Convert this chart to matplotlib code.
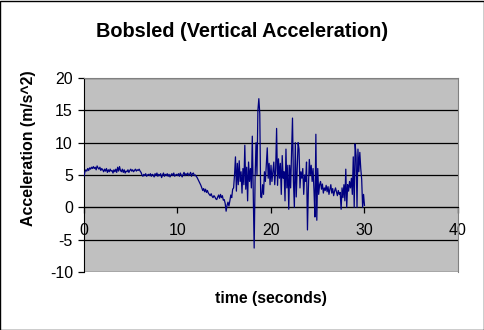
import numpy as np
import matplotlib.pyplot as plt
from matplotlib.patches import Rectangle

plt.rcParams['font.family'] = ['Liberation Sans', 'DejaVu Sans']
plt.rcParams['axes.unicode_minus'] = False

# vertical acceleration (m/s^2), one sample every 0.1 s from 0 to 30 s
accel = [
    4.8, 5.5, 5.8, 5.6, 6.0, 5.7, 6.1, 5.9, 6.2, 6.0,
    6.3, 6.0, 6.2, 5.8, 6.4, 6.1, 5.9, 6.2, 5.7, 6.0,
    5.8, 5.5, 5.9, 5.6, 6.0, 5.4, 5.8, 5.5, 5.9, 5.6,
    5.7, 5.3, 5.8, 5.5, 5.9, 5.4, 6.2, 5.6, 6.3, 5.7,
    5.5, 5.9, 5.4, 5.8, 5.3, 5.6, 5.5, 5.8, 5.4, 5.7,
    5.9, 5.6, 5.8, 5.5, 5.7, 5.9, 5.6, 5.8, 5.7, 5.9,
    5.6, 5.4, 5.0, 4.8, 5.1, 4.9, 5.2, 4.8, 5.0, 5.1,
    4.9, 5.2, 4.8, 5.1, 5.0, 4.7, 5.2, 4.9, 5.3, 4.8,
    5.1, 4.9, 5.2, 4.6, 5.0, 5.3, 4.8, 5.1, 4.9, 5.2,
    4.8, 5.1, 4.7, 5.0, 5.2, 4.9, 5.3, 4.8, 5.0, 5.1,
    4.9, 5.2, 4.8, 5.3, 5.0, 4.7, 5.1, 5.4, 4.9, 5.2,
    5.0, 5.3, 4.9, 5.1, 5.4, 4.8, 5.2, 5.3, 4.9, 5.0,
    4.8, 4.6, 4.3, 4.0, 3.7, 3.4, 3.0, 2.6, 2.9, 2.4,
    2.8, 2.3, 2.6, 2.2, 2.0, 1.8, 2.1, 1.7, 1.5, 1.8,
    1.6, 1.3, 1.2, 1.6, 1.9, 1.4, 2.0, 1.5, 1.8, 1.1,
    1.2, 0.6, -0.6, 0.3, 0.8, 0.2, 1.0, 1.9, 1.5, 2.8,
    3.0, 5.0, 7.8, 2.5, 6.8, 3.5, 7.2, 4.0, 5.5, 2.2,
    6.0, 3.5, 9.6, 2.8, 6.2, 1.0, 7.0, 4.0, 6.0, 3.0,
    11.0, 2.0, -6.3, 4.5, 10.0, 5.0, 15.0, 16.8, 14.5, 1.6,
    1.5, 3.5, 2.0, 5.5, 4.0, 6.5, 9.2, 4.5, 6.8, 3.5,
    6.5, 4.0, 5.5, 7.0, 3.5, 6.0, 12.2, 3.4, 7.5, 4.5,
    6.8, 2.0, 8.0, 4.5, 5.5, 1.0, 9.0, 3.0, 6.5, -0.3,
    6.5, 3.0, 8.5, 13.8, 4.0, 0.0, 10.0, 1.6, 6.0, 10.0,
    9.0, 3.0, 5.5, 4.5, 6.0, 2.0, 5.0, 4.0, 7.0, -3.5,
    3.0, 7.4, 5.0, 6.5, 4.0, 6.0, 2.5, -1.5, 11.3, -2.0,
    6.0, 2.0, 3.5, 4.0, 2.8, 3.6, 2.2, 3.0, 2.6, 3.4,
    2.4, 3.2, 2.0, 2.8, 3.5, 2.2, 2.9, 1.8, 2.5, 3.0,
    2.4, 1.8, 2.6, 2.0, 2.3, -0.3, 3.0, 1.5, 3.5, 1.0,
    5.9, 0.0, 3.5, 2.5, 4.0, 3.0, 4.5, 2.0, 7.8, 0.0,
    9.8, 8.0, 0.0, 9.0, 5.5, 8.5, 6.0, 4.3, 0.0, 2.0,
    0.3,
]
time_s = np.arange(len(accel)) * 0.1

x_ticks = [0, 10, 20, 30, 40]
y_ticks = [-10, -5, 0, 5, 10, 15, 20]

fig = plt.figure(figsize=(4.85, 3.30), dpi=100)
fig.patches.append(Rectangle((0.001, 0.0015), 0.997, 0.996, transform=fig.transFigure,
                             fill=False, edgecolor='black', linewidth=1))

ax = fig.add_axes([0.1732, 0.1758, 0.7711, 0.5879])
ax.set_facecolor('#C0C0C0')
ax.plot(time_s, accel, color='#000080', linewidth=0.9, zorder=3)

ax.set_xlim(0, 40)
ax.set_ylim(-10, 20)
ax.set_xticks(x_ticks)
ax.set_yticks(y_ticks)
for y in y_ticks:
    ax.axhline(y, color='black', linewidth=0.9, zorder=1)

ax.spines['bottom'].set_position(('data', 0))
ax.spines['bottom'].set_color('black')
ax.spines['left'].set_color('black')
ax.spines['top'].set_color('#808080')
ax.spines['right'].set_color('#808080')
ax.tick_params(axis='both', direction='out', length=4, width=0.9, labelsize=11.5)
ax.tick_params(axis='x', pad=7)
ax.tick_params(axis='y', pad=4)

fig.text(0.5, 0.905, 'Bobsled (Vertical Acceleration)', ha='center', va='center',
         fontsize=14.3, fontweight='bold')
fig.text(0.559, 0.094, 'time (seconds)', ha='center', va='center',
         fontsize=11.4, fontweight='bold')
fig.text(0.058, 0.552, 'Acceleration (m/s^2)', ha='center', va='center',
         rotation=90, fontsize=11.4, fontweight='bold')

fig.savefig('out.png', dpi=100)
